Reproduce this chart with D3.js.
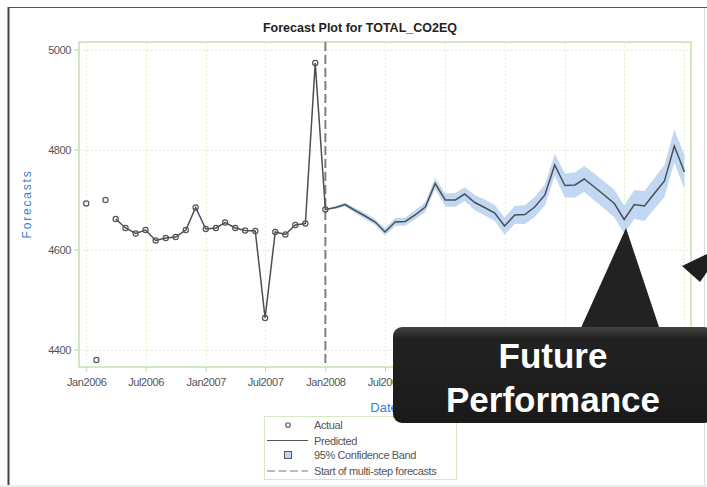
<!DOCTYPE html>
<html>
<head>
<meta charset="utf-8">
<script src="https://cdn.jsdelivr.net/npm/d3@7"></script>
<style>
  html, body { margin: 0; padding: 0; background: #fff; }
  svg { display: block; }
</style>
</head>
<body>
<script>
// Actual values, monthly Jan2006 .. Jan2008
const actual = [4692, 4379, 4699, 4661, 4643, 4632, 4639, 4618, 4623, 4625, 4639, 4684,
                4641, 4643, 4654, 4643, 4638, 4637, 4463, 4635, 4630, 4649, 4652, 4973, 4680];
// Predicted, monthly Jan2006 .. Jan2011 (null where no prediction)
const predicted = [null, null, null, 4661, 4643, 4632, 4639, 4618, 4623, 4625, 4639, 4684,
                   4641, 4643, 4654, 4643, 4638, 4637, 4463, 4635, 4630, 4649, 4652, 4973,
                   4680, 4684, 4690, 4678, 4667, 4655, 4635, 4655, 4656, 4669, 4685, 4732,
                   4699, 4699, 4711, 4694, 4684, 4673, 4647, 4669, 4670, 4685, 4709, 4769,
                   4728, 4729, 4741, 4725, 4709, 4692, 4660, 4690, 4687, 4712, 4737, 4807,
                   4755];
// 95% band, monthly Jan2008 .. Jan2011
const lower = [4680, 4681, 4686, 4673, 4661, 4649, 4628, 4647, 4648, 4660, 4675, 4721,
               4686, 4685, 4697, 4679, 4668, 4657, 4630, 4651, 4651, 4665, 4688, 4747,
               4704, 4704, 4715, 4698, 4682, 4664, 4632, 4661, 4657, 4681, 4705, 4774, 4721];
const upper = [4680, 4687, 4694, 4683, 4673, 4661, 4642, 4663, 4664, 4678, 4695, 4743,
               4712, 4713, 4725, 4709, 4700, 4689, 4664, 4687, 4689, 4705, 4730, 4791,
               4752, 4754, 4767, 4752, 4736, 4720, 4688, 4719, 4717, 4743, 4769, 4840, 4789];
const yTicks = [4400, 4600, 4800, 5000];
// labels from Jan2009 on sit under the callout and are not visible
const xTickLabels = ["Jan2006", "Jul2006", "Jan2007", "Jul2007", "Jan2008", "Jul2008",
                     "", "", "", "", ""];
const legendItems = ["Actual", "Predicted", "95% Confidence Band", "Start of multi-step forecasts"];

const W = 707, H = 487;
const plot = { left: 79, right: 691, top: 42, bottom: 367 };
const sans = "'Liberation Sans', Arial, sans-serif";

const months = d3.timeMonth.range(new Date(2006, 0, 1), new Date(2011, 1, 1));
const forecastStart = new Date(2008, 0, 1);

const x = d3.scaleTime()
    .domain([new Date(2005, 11, 10), new Date(2011, 0, 21)])
    .range([plot.left, plot.right]);
const y = d3.scaleLinear()
    .domain([4365, 5015])
    .range([plot.bottom, plot.top]);

const svg = d3.select("body").append("svg")
    .attr("width", W)
    .attr("height", H);

// Outer frame
svg.append("rect").attr("x", 0).attr("y", 485).attr("width", W).attr("height", 2).attr("fill", "#ececec");
svg.append("line").attr("x1", 8).attr("x2", W).attr("y1", 7.5).attr("y2", 7.5)
    .attr("stroke", "#555").attr("stroke-width", 1);
svg.append("line").attr("x1", 8.5).attr("x2", 8.5).attr("y1", 7).attr("y2", 485)
    .attr("stroke", "#444").attr("stroke-width", 2);
svg.append("line").attr("x1", 704.5).attr("x2", 704.5).attr("y1", 8).attr("y2", 485)
    .attr("stroke", "#ddd").attr("stroke-width", 1);

// Title
svg.append("text")
    .attr("x", 360).attr("y", 32)
    .attr("text-anchor", "middle")
    .attr("font-family", sans)
    .attr("font-weight", "bold")
    .attr("font-size", 12.5)
    .attr("fill", "#222")
    .text("Forecast Plot for TOTAL_CO2EQ");

// Gridlines
const xTickDates = d3.timeMonth.every(6).range(new Date(2006, 0, 1), new Date(2011, 1, 1));
const grid = svg.append("g").attr("stroke", "#d6ebc4").attr("stroke-dasharray", "1.5,2.5").attr("stroke-width", 1);
grid.selectAll(".gx").data(xTickDates).join("line")
    .attr("x1", d => Math.round(x(d)) + 0.5).attr("x2", d => Math.round(x(d)) + 0.5)
    .attr("y1", plot.top).attr("y2", plot.bottom);
grid.selectAll(".gy").data(yTicks).join("line")
    .attr("x1", plot.left).attr("x2", plot.right)
    .attr("y1", d => Math.round(y(d)) + 0.5).attr("y2", d => Math.round(y(d)) + 0.5);

// Plot frame
svg.append("rect")
    .attr("x", plot.left).attr("y", plot.top)
    .attr("width", plot.right - plot.left).attr("height", plot.bottom - plot.top)
    .attr("fill", "none").attr("stroke", "#c6e0ae").attr("stroke-width", 1.5);

// Axes
const yAxis = svg.append("g")
    .attr("transform", `translate(${plot.left},0)`)
    .call(d3.axisLeft(y).tickValues(yTicks).tickSize(5).tickPadding(3).tickFormat(d3.format("d")));
const xAxis = svg.append("g")
    .attr("transform", `translate(0,${plot.bottom})`)
    .call(d3.axisBottom(x).tickValues(xTickDates).tickSize(5).tickPadding(6)
        .tickFormat((d, i) => xTickLabels[i]));
[yAxis, xAxis].forEach(a => {
    a.select(".domain").remove();
    a.selectAll(".tick line").attr("stroke", "#c6d8b8");
    a.selectAll(".tick text")
        .attr("font-family", sans)
        .attr("font-size", 11)
        .attr("letter-spacing", -0.4)
        .attr("fill", "#555");
});
xAxis.selectAll(".tick text").filter((d, i) => !xTickLabels[i]).remove();

// Axis labels
svg.append("text")
    .attr("transform", "translate(31,204) rotate(-90)")
    .attr("text-anchor", "middle")
    .attr("font-family", sans)
    .attr("font-size", 12)
    .attr("letter-spacing", 1.8)
    .attr("fill", "#3d7fd0")
    .text("Forecasts");
svg.append("text")
    .attr("x", 384).attr("y", 412)
    .attr("text-anchor", "middle")
    .attr("font-family", sans)
    .attr("font-size", 13)
    .attr("fill", "#3d7fd0")
    .text("Date");

// Confidence band
const fMonths = months.filter(d => d >= forecastStart);
const bandData = fMonths.map((d, i) => ({ date: d, lo: lower[i], hi: upper[i] }));
svg.append("path")
    .datum(bandData)
    .attr("fill", "#c2d8f2")
    .attr("d", d3.area().x(d => x(d.date)).y0(d => y(d.lo)).y1(d => y(d.hi)));

// Forecast start line
svg.append("line")
    .attr("x1", x(forecastStart)).attr("x2", x(forecastStart))
    .attr("y1", plot.top).attr("y2", plot.bottom)
    .attr("stroke", "#808080").attr("stroke-width", 2).attr("stroke-dasharray", "9,4");

// Predicted line
const predData = months.map((d, i) => ({ date: d, v: predicted[i] }));
svg.append("path")
    .datum(predData)
    .attr("fill", "none")
    .attr("stroke", "#4a4f55")
    .attr("stroke-width", 1.5)
    .attr("d", d3.line().defined(d => d.v != null).x(d => x(d.date)).y(d => y(d.v)));

// Actual points
svg.append("g").selectAll("circle")
    .data(actual.map((v, i) => ({ date: months[i], v })))
    .join("circle")
    .attr("cx", d => x(d.date)).attr("cy", d => y(d.v))
    .attr("r", 2.6)
    .attr("fill", "none")
    .attr("stroke", "#555")
    .attr("stroke-width", 1.2);

// Legend
const lg = svg.append("g").attr("transform", "translate(264,416)");
lg.append("rect").attr("x", 0.5).attr("y", 0.5).attr("width", 192).attr("height", 63)
    .attr("fill", "#fff").attr("stroke", "#d4e8c2");
const rowY = [9, 24.5, 39, 55];
lg.append("circle").attr("cx", 24).attr("cy", rowY[0]).attr("r", 2.3)
    .attr("fill", "none").attr("stroke", "#555").attr("stroke-width", 1.1);
lg.append("line").attr("x1", 3).attr("x2", 44).attr("y1", rowY[1]).attr("y2", rowY[1])
    .attr("stroke", "#555").attr("stroke-width", 1.2);
lg.append("rect").attr("x", 20.5).attr("y", rowY[2] - 3.5).attr("width", 7).attr("height", 7)
    .attr("fill", "#c2d8f2").attr("stroke", "#555").attr("stroke-width", 1);
lg.append("line").attr("x1", 3).attr("x2", 44).attr("y1", rowY[3]).attr("y2", rowY[3])
    .attr("stroke", "#777").attr("stroke-width", 1.2).attr("stroke-dasharray", "8,3.5");
lg.selectAll(".lt").data(legendItems).join("text")
    .attr("x", 50).attr("y", (d, i) => rowY[i] + 4)
    .attr("font-family", sans)
    .attr("font-size", 11)
    .attr("letter-spacing", -0.4)
    .attr("fill", "#555")
    .text(d => d);

// Callout overlay
const defs = svg.append("defs");
const grad = defs.append("linearGradient").attr("id", "gloss").attr("x1", 0).attr("x2", 0).attr("y1", 0).attr("y2", 1);
grad.append("stop").attr("offset", "0%").attr("stop-color", "#444");
grad.append("stop").attr("offset", "12%").attr("stop-color", "#222");
grad.append("stop").attr("offset", "100%").attr("stop-color", "#1a1a1a");

const callout = svg.append("g");
callout.append("path")
    .attr("d", "M626,228 L660,330 L580,330 Z")
    .attr("fill", "#222");
callout.append("rect")
    .attr("x", 393).attr("y", 327).attr("width", 320).attr("height", 96).attr("rx", 9)
    .attr("fill", "url(#gloss)");
callout.append("path")
    .attr("d", "M682,266 L707,254 L707,272 L700,282 Z")
    .attr("fill", "#1e1e1e");
callout.selectAll(".ct").data(["Future", "Performance"]).join("text")
    .attr("x", 553).attr("y", (d, i) => i === 0 ? 368 : 412)
    .attr("text-anchor", "middle")
    .attr("font-family", sans)
    .attr("font-weight", "bold")
    .attr("font-size", 35)
    .attr("fill", "#fff")
    .text(d => d);
</script>
</body>
</html>
